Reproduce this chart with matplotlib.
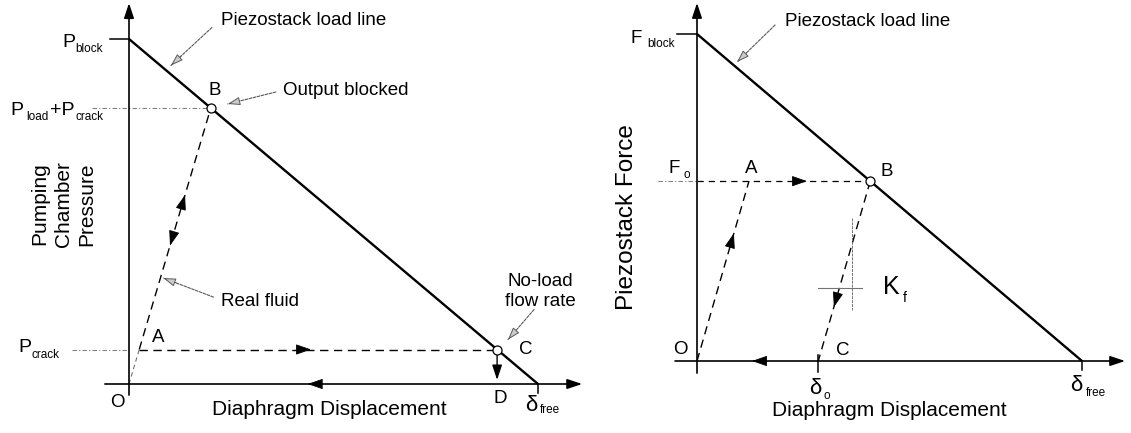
import matplotlib
matplotlib.use("Agg")
import matplotlib.pyplot as plt
from matplotlib.transforms import offset_copy

plt.rcParams["font.family"] = ["Liberation Sans", "DejaVu Sans"]

# ---- Left diagram: pumping chamber pressure vs diaphragm displacement (normalised) ----
pump_load_disp = [0.0, 1.0]          # zero displacement .. delta_free
pump_load_pres = [1.0, 0.0]          # P_block .. zero
p_crack = 0.10
p_load_crack = 0.80
pump_point_names = ["O", "A", "B", "C", "D"]
pump_point_disp = [0.0, 0.025, 0.20, 0.90, 0.90]
pump_point_pres = [0.0, 0.10, 0.80, 0.10, 0.0]

# ---- Right diagram: piezostack force vs diaphragm displacement (normalised) ----
stack_load_disp = [0.0, 1.0]
stack_load_force = [1.0, 0.0]
f_o = 0.55
delta_o = 0.315
stack_point_names = ["O", "A", "B", "C"]
stack_point_disp = [0.0, 0.135, 0.45, 0.315]
stack_point_force = [0.0, 0.55, 0.55, 0.0]

W, H = 1131, 433
fig = plt.figure(figsize=(W / 100, H / 100), dpi=100)


def make_panel(x_left, x_right, origin, unit):
    """Axes spanning a vertical strip; origin/unit give where (0,0) and (1,1) land."""
    ax = fig.add_axes([x_left / W, 0, (x_right - x_left) / W, 1])
    ox, oy = origin
    ux, uy = unit
    ax.set_xlim((x_left - ox) / ux, (x_right - ox) / ux)
    ax.set_ylim((oy - H) / uy, oy / uy)
    ax.axis("off")
    return ax


def shifted(ax, dx, dy):
    return offset_copy(ax.transData, fig=fig, x=dx, y=dy, units="dots")


def label(ax, pt, text, dx, dy, size=13.5, ha="left", **kw):
    ax.text(pt[0], pt[1], text, transform=shifted(ax, dx, dy), fontsize=size,
            ha=ha, va="baseline", **kw)


def axis_arrow(ax, start, end):
    ax.annotate("", xy=end, xytext=start, annotation_clip=False,
                arrowprops=dict(arrowstyle="-|>,head_length=0.9,head_width=0.3",
                                mutation_scale=10, lw=1.2, color="k",
                                shrinkA=0, shrinkB=0))


def mid_arrow(ax, p0, p1, frac, color="k"):
    x = p0[0] + frac * (p1[0] - p0[0])
    y = p0[1] + frac * (p1[1] - p0[1])
    xb = x - 0.02 * (p1[0] - p0[0])
    yb = y - 0.02 * (p1[1] - p0[1])
    ax.annotate("", xy=(x, y), xytext=(xb, yb), annotation_clip=False,
                arrowprops=dict(arrowstyle="-|>,head_length=0.95,head_width=0.33",
                                mutation_scale=10, lw=0.6, color=color,
                                shrinkA=0, shrinkB=0))


def leader(ax, pt, tip, tail):
    # dotted shaft
    ax.annotate("", xy=pt, xycoords=shifted(ax, *tip),
                xytext=pt, textcoords=shifted(ax, *tail), annotation_clip=False,
                arrowprops=dict(arrowstyle="-", lw=0.8, color="0.35",
                                linestyle=(0, (2.5, 1.2)), shrinkA=0, shrinkB=0))
    # small open head at the tip
    near = (tip[0] + 0.25 * (tail[0] - tip[0]), tip[1] + 0.25 * (tail[1] - tip[1]))
    ax.annotate("", xy=pt, xycoords=shifted(ax, *tip),
                xytext=pt, textcoords=shifted(ax, *near), annotation_clip=False,
                arrowprops=dict(arrowstyle="-|>,head_length=0.75,head_width=0.25",
                                mutation_scale=10, lw=0.7, ec="0.35", fc="0.8",
                                shrinkA=0, shrinkB=0))


DASH = (0, (6, 4))
REF = (0, (4, 2, 1, 2))

# ======================= left diagram =======================
axL = make_panel(0, 596, (129, 384), (409, 345))
O, A, B, C, D = list(zip(pump_point_disp, pump_point_pres))

axis_arrow(axL, (-0.059, 0), (1.108, 0))
axis_arrow(axL, (0, -0.032), (0, 1.104))
axL.plot(pump_load_disp, pump_load_pres, color="k", lw=1.7, solid_capstyle="butt")

# P_block tick and delta_free tick
axL.plot([-0.046, 0], [pump_load_pres[0]] * 2, color="k", lw=1.1)
axL.plot([pump_load_disp[1]] * 2, [0, -0.026], color="k", lw=1.1)

# reference levels
axL.plot([-0.09, B[0]], [p_load_crack] * 2, color="0.5", lw=0.8, ls=REF)
axL.plot([-0.139, 0], [p_crack] * 2, color="0.5", lw=0.8, ls=REF)

# pumping cycle
axL.plot([A[0], C[0]], [A[1], C[1]], color="k", lw=1.0, ls=DASH)
axL.plot([O[0], A[0]], [O[1], A[1]], color="0.45", lw=0.8, ls=(0, (4, 3)))
axL.plot([A[0], B[0]], [A[1], B[1]], color="k", lw=1.0, ls=DASH)
mid_arrow(axL, A, B, 0.64)
mid_arrow(axL, B, A, 0.57)
mid_arrow(axL, A, C, 0.48)
mid_arrow(axL, (pump_load_disp[1], 0), O, 0.563)
axL.annotate("", xy=(D[0], D[1] + 0.012), xytext=(C[0], C[1] - 0.017),
             annotation_clip=False,
             arrowprops=dict(arrowstyle="-|>,head_length=0.9,head_width=0.3",
                             mutation_scale=10, lw=1.0, color="k",
                             shrinkA=0, shrinkB=0))
for p in (B, C):
    axL.plot(*p, "o", ms=6.5, mfc="white", mec="k", mew=0.9, zorder=5)

# point labels
label(axL, A, "A", 13, 8)
label(axL, B, "B", -2, 13)
label(axL, C, "C", 22, -5)
label(axL, D, "D", -4, -19)
label(axL, O, "O", -4, -23, ha="right")

# axis value labels
top_left = (0, pump_load_pres[0])
label(axL, top_left, "P", -67, -8, size=14)
label(axL, top_left, "block", -54, -13, size=8.5)
lvl = (0, p_load_crack)
label(axL, lvl, "P", -119, -7, size=14)
label(axL, lvl, "load", -103, -12, size=8.5)
label(axL, lvl, "+P", -79, -7, size=14)
label(axL, lvl, "crack", -53, -12, size=8.5)
lvl = (0, p_crack)
label(axL, lvl, "P", -111, -3, size=14)
label(axL, lvl, "crack", -98, -8, size=8.5)
free_pt = (pump_load_disp[1], 0)
label(axL, free_pt, "δ", -7, -27, size=16, ha="center")
label(axL, free_pt, "free", 2, -29, size=8.5)

# annotations
load_pt = (0.10, 0.90)
leader(axL, load_pt, (1, 8), (42, 46))
label(axL, load_pt, "Piezostack load line", 51, 48)
leader(axL, B, (17, 4), (65, 16))
label(axL, B, "Output blocked", 72, 13)
fluid_pt = (0.0768, 0.307)
leader(axL, fluid_pt, (3, 0), (53, -19))
label(axL, fluid_pt, "Real fluid", 61, -28)
leader(axL, C, (11, 10), (37, 40))
label(axL, C, "No-load", 43, 64, ha="center")
label(axL, C, "flow rate", 43, 43, ha="center")

# axis titles
label(axL, (0.5, 0), "Diaphragm Displacement", -4, -31, size=15, ha="center")
axL.text(0, 0.522, "Pumping\nChamber\nPressure", transform=shifted(axL, -66, 0),
         fontsize=15, rotation=90, ha="center", va="center", linespacing=1.3)

# ======================= right diagram =======================
axR = make_panel(596, 1131, (697, 361), (385, 327))
O2, A2, B2, C2 = list(zip(stack_point_disp, stack_point_force))

axis_arrow(axR, (-0.057, 0), (1.112, 0))
axis_arrow(axR, (0, -0.037), (0, 1.095))
axR.plot(stack_load_disp, stack_load_force, color="k", lw=1.7, solid_capstyle="butt")

axR.plot([-0.052, 0], [stack_load_force[0]] * 2, color="k", lw=1.1)
axR.plot([stack_load_disp[1]] * 2, [0, -0.028], color="k", lw=1.1)
axR.plot([delta_o] * 2, [0.018, -0.034], color="k", lw=1.1)

axR.plot([-0.101, 0], [f_o] * 2, color="0.5", lw=0.8, ls=REF)
axR.plot([0, B2[0]], [f_o] * 2, color="k", lw=0.9, ls=(0, (5, 4)))
axR.plot([O2[0], A2[0]], [O2[1], A2[1]], color="k", lw=1.0, ls=DASH)
axR.plot([B2[0], C2[0]], [B2[1], C2[1]], color="k", lw=1.0, ls=DASH)
mid_arrow(axR, O2, A2, 0.71)
mid_arrow(axR, B2, C2, 0.70)
mid_arrow(axR, (0, f_o), B2, 0.635)
mid_arrow(axR, (stack_load_disp[1], 0), O2, 0.857)
axR.plot(*B2, "o", ms=6.5, mfc="white", mec="k", mew=0.9, zorder=5)

# stiffness marker
axR.plot([0.403, 0.403], [0.437, 0.156], color="0.45", lw=0.7, ls=(0, (3, 1)))
axR.plot([0.314, 0.429], [0.223, 0.223], color="0.45", lw=0.8)
label(axR, C2, "K", 65, 67, size=18)
label(axR, C2, "f", 85, 59, size=10)

label(axR, A2, "A", -4, 8)
label(axR, B2, "B", 10, 5)
label(axR, C2, "C", 18, 6)
label(axR, O2, "O", -9, 7, ha="right")

top_right = (0, stack_load_force[0])
label(axR, top_right, "F", -66, -9, size=13.5)
label(axR, top_right, "block", -50, -13, size=8.5)
label(axR, (0, f_o), "F", -29, 8, size=13.5)
label(axR, (0, f_o), "o", -14, 3, size=8.5)
label(axR, C2, "δ", -3, -33, size=16, ha="center")
label(axR, C2, "o", 5, -38, size=8.5)
free_pt2 = (stack_load_disp[1], 0)
label(axR, free_pt2, "δ", -6, -30, size=16, ha="center")
label(axR, free_pt2, "free", 4, -35, size=8.5)

load_pt2 = (0.104, 0.896)
leader(axR, load_pt2, (0, 6), (38, 43))
label(axR, load_pt2, "Piezostack load line", 48, 42)

label(axR, (0.5, 0), "Diaphragm Displacement", 0, -55, size=15, ha="center")
axR.text(0, 0.44, "Piezostack Force", transform=shifted(axR, -70, 0),
         fontsize=17.5, rotation=90, ha="center", va="center")

fig.savefig("out.png", dpi=100)
